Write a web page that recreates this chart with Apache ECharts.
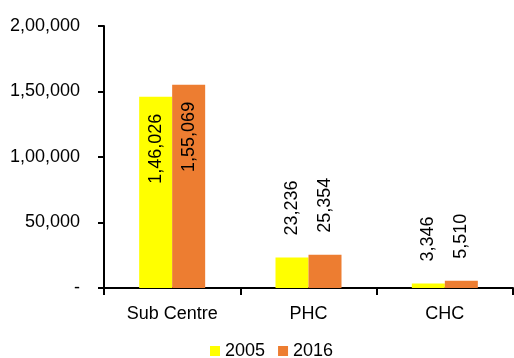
<!DOCTYPE html>
<html><head><meta charset="utf-8">
<script src="https://cdn.jsdelivr.net/npm/echarts@6/dist/echarts.min.js"></script>
<style>html,body{margin:0;padding:0;background:#fff}#c{width:514px;height:358px}</style>
</head><body><div id="c"></div>
<script>
const categories = ['Sub Centre', 'PHC', 'CHC'];
const seriesNames = ['2005', '2016'];
const values2005 = [146026, 23236, 3346];
const values2016 = [155069, 25354, 5510];
const yTickLabels = {0: '-', 50000: '50,000', 100000: '1,00,000', 150000: '1,50,000', 200000: '2,00,000'};

function indianFormat(n) {
  const s = String(Math.round(n));
  if (s.length <= 3) return s;
  const last3 = s.slice(-3);
  let rest = s.slice(0, -3);
  const parts = [];
  while (rest.length > 2) { parts.unshift(rest.slice(-2)); rest = rest.slice(0, -2); }
  if (rest) parts.unshift(rest);
  return parts.join(',') + ',' + last3;
}

const FONT = 'Liberation Sans';
const FS = 18;
const chart = echarts.init(document.getElementById('c'));
function mkData(vals) {
  return vals.map((v, i) => {
    if (i === 0) {
      return {value: v, label: {position: 'insideTop', distance: 17, align: 'right'}};
    }
    return {value: v};
  });
}
chart.setOption({
  animation: false,
  textStyle: {fontFamily: FONT},
  grid: {left: 104, top: 26, right: 1, bottom: 70},
  legend: {
    data: seriesNames, bottom: -2, left: 205, itemWidth: 10, itemHeight: 10, itemGap: 13,
    padding: [0, 5, 0, 5],
    icon: 'rect', textStyle: {fontFamily: FONT, fontSize: FS, color: '#000'}
  },
  xAxis: {
    type: 'category', data: categories,
    axisLine: {lineStyle: {color: '#000', width: 2}},
    axisTick: {show: true, length: 7, lineStyle: {color: '#000', width: 2}},
    axisLabel: {color: '#000', fontSize: FS, fontFamily: FONT, margin: 17}
  },
  yAxis: {
    type: 'value', min: 0, max: 200000, interval: 50000,
    splitLine: {show: false},
    axisLine: {show: true, lineStyle: {color: '#000', width: 2}},
    axisTick: {show: true, length: 6, lineStyle: {color: '#000', width: 2}},
    axisLabel: {color: '#000', fontSize: FS, fontFamily: FONT, margin: 24,
      formatter: v => yTickLabels[v] !== undefined ? yTickLabels[v] : indianFormat(v)}
  },
  series: [
    {name: seriesNames[0], type: 'bar', data: mkData(values2005), barWidth: 33, barGap: '0%',
     itemStyle: {color: '#FFFF00'},
     label: {show: true, position: 'top', distance: 22, rotate: 90, align: 'left', verticalAlign: 'middle',
       color: '#000', fontSize: FS, fontFamily: FONT, formatter: p => indianFormat(p.value)}},
    {name: seriesNames[1], type: 'bar', data: mkData(values2016), barWidth: 33, barGap: '0%',
     itemStyle: {color: '#ED7D31'},
     label: {show: true, position: 'top', distance: 22, rotate: 90, align: 'left', verticalAlign: 'middle',
       color: '#000', fontSize: FS, fontFamily: FONT, formatter: p => indianFormat(p.value)}}
  ]
});
</script></body></html>
